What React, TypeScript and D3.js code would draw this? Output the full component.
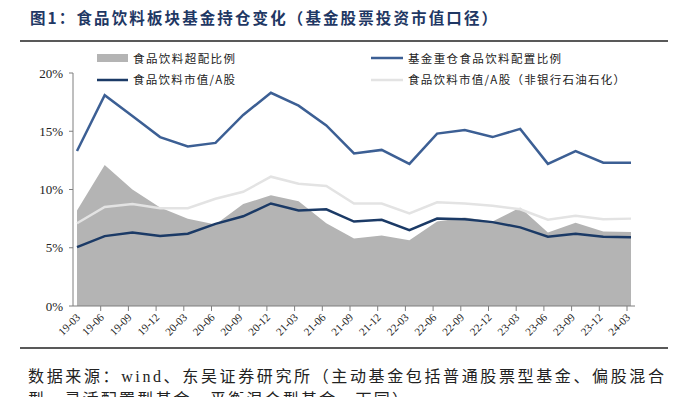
import React from 'react';
import * as d3 from 'd3';

const quarters = ['19-03', '19-06', '19-09', '19-12', '20-03', '20-06', '20-09', '20-12', '21-03', '21-06', '21-09', '21-12', '22-03', '22-06', '22-09', '22-12', '23-03', '23-06', '23-09', '23-12', '24-03'];
// 基金重仓食品饮料配置比例
const fundWeight = [13.3, 18.1, 16.3, 14.5, 13.7, 14.0, 16.4, 18.3, 17.2, 15.5, 13.1, 13.4, 12.2, 14.8, 15.1, 14.5, 15.2, 12.2, 13.3, 12.3, 12.3];
// 食品饮料市值/A股
const mktShare = [5.05, 6.0, 6.3, 6.0, 6.2, 7.05, 7.7, 8.8, 8.2, 8.3, 7.25, 7.4, 6.5, 7.5, 7.45, 7.2, 6.75, 5.95, 6.2, 5.95, 5.9];
// 食品饮料市值/A股（非银行石油石化）
const mktShareEx = [7.1, 8.5, 8.75, 8.4, 8.4, 9.2, 9.8, 11.1, 10.5, 10.3, 8.8, 8.8, 7.95, 8.9, 8.8, 8.6, 8.3, 7.4, 7.75, 7.45, 7.5];
// 食品饮料超配比例
const overweight = [8.2, 12.1, 10.0, 8.45, 7.5, 7.0, 8.75, 9.5, 9.0, 7.1, 5.8, 6.05, 5.65, 7.25, 7.6, 7.25, 8.45, 6.3, 7.15, 6.4, 6.35];
const yTicks = [0, 5, 10, 15, 20];

const W = 685;
const H = 397;
const serif = '"Liberation Serif", "Times New Roman", serif';
const cjk = '"Noto Sans CJK SC", "Noto Sans", sans-serif';
const axisColor = '#7f7f7f';

export default function App() {
  const x = d3.scalePoint<string>().domain(quarters).range([77, 631]);
  const y = d3.scaleLinear().domain([0, 20]).range([306, 73]);

  const idx = quarters.map((_, i) => i);
  const px = (i: number) => x(quarters[i]) as number;

  const area = d3.area<number>()
    .x(i => px(i))
    .y0(y(0))
    .y1(i => y(overweight[i]));

  const mkLine = (vals: number[]) => d3.line<number>()
    .x(i => px(i))
    .y(i => y(vals[i]))(idx) || '';

  return (
    <svg width={W} height={H} style={{ position: 'absolute', left: 0, top: 0, background: '#fff' }}>
      {/* title */}
      <text x={30} y={24} fontFamily={cjk} fontWeight={700} fontSize={15.5} fill="#1f3864"
        textLength={467} lengthAdjust="spacing">
        图1：食品饮料板块基金持仓变化（基金股票投资市值口径）
      </text>
      <line x1={20} x2={668} y1={41} y2={41} stroke="#222" strokeWidth={1.5} />

      {/* legend */}
      <rect x={97} y={54} width={31} height={8} fill="#b4b4b4" />
      <text x={133} y={63} fontFamily={cjk} fontSize={11.5} fill="#222" textLength={102} lengthAdjust="spacing">食品饮料超配比例</text>
      <line x1={97} x2={128} y1={80} y2={80} stroke="#1b3a66" strokeWidth={2.5} />
      <text x={133} y={84} fontFamily={cjk} fontSize={11.5} fill="#222" textLength={102} lengthAdjust="spacing">食品饮料市值/A股</text>
      <line x1={371} x2={403} y1={58} y2={58} stroke="#3c5f94" strokeWidth={2.5} />
      <text x={408} y={63} fontFamily={cjk} fontSize={11.5} fill="#222" textLength={153} lengthAdjust="spacing">基金重仓食品饮料配置比例</text>
      <line x1={371} x2={403} y1={80} y2={80} stroke="#e3e3e3" strokeWidth={2.5} />
      <text x={408} y={84} fontFamily={cjk} fontSize={11.5} fill="#222" textLength={217} lengthAdjust="spacing">食品饮料市值/A股（非银行石油石化）</text>

      {/* series */}
      <path d={area(idx) || ''} fill="#b4b4b4" />
      <path d={mkLine(mktShareEx)} fill="none" stroke="#e3e3e3" strokeWidth={2.5} />
      <path d={mkLine(mktShare)} fill="none" stroke="#1b3a66" strokeWidth={2.5} />
      <path d={mkLine(fundWeight)} fill="none" stroke="#3c5f94" strokeWidth={2.5} />

      {/* y axis */}
      <line x1={73} x2={73} y1={y(20)} y2={y(0)} stroke={axisColor} strokeWidth={1} />
      {yTicks.map(t => (
        <g key={t}>
          <line x1={69} x2={73} y1={y(t)} y2={y(t)} stroke={axisColor} />
          <text x={63} y={y(t) + 4.5} textAnchor="end" fontFamily={serif} fontSize={13} fill="#222">{t}%</text>
        </g>
      ))}

      {/* x axis */}
      <line x1={73} x2={635} y1={y(0)} y2={y(0)} stroke={axisColor} strokeWidth={1} />
      {quarters.map((q, i) => {
        const tx = px(i) - (i === 0 ? 0 : 4);
        return (
          <g key={q}>
            {i > 0 && <line x1={tx} x2={tx} y1={y(0)} y2={y(0) + 5} stroke={axisColor} />}
            <text
              transform={`translate(${tx + 4},${y(0) + 12}) rotate(-45)`}
              textAnchor="end"
              fontFamily={serif}
              fontSize={11}
              fill="#222"
            >{q}</text>
          </g>
        );
      })}

      {/* footer */}
      <line x1={20} x2={668} y1={348} y2={348} stroke="#222" strokeWidth={1.5} />
      <text x={28} y={382} fontSize={16} fill="#222" textLength={636} lengthAdjust="spacing">
        <tspan fontFamily={cjk}>数据来源：</tspan>
        <tspan fontFamily={serif}>wind</tspan>
        <tspan fontFamily={cjk}>、东吴证券研究所（主动基金包括普通股票型基金、偏股混合</tspan>
      </text>
      <text x={28} y={405} fontFamily={cjk} fontSize={16} fill="#222" textLength={380} lengthAdjust="spacing">
        型、灵活配置型基金、平衡混合型基金，下同）
      </text>
    </svg>
  );
}
